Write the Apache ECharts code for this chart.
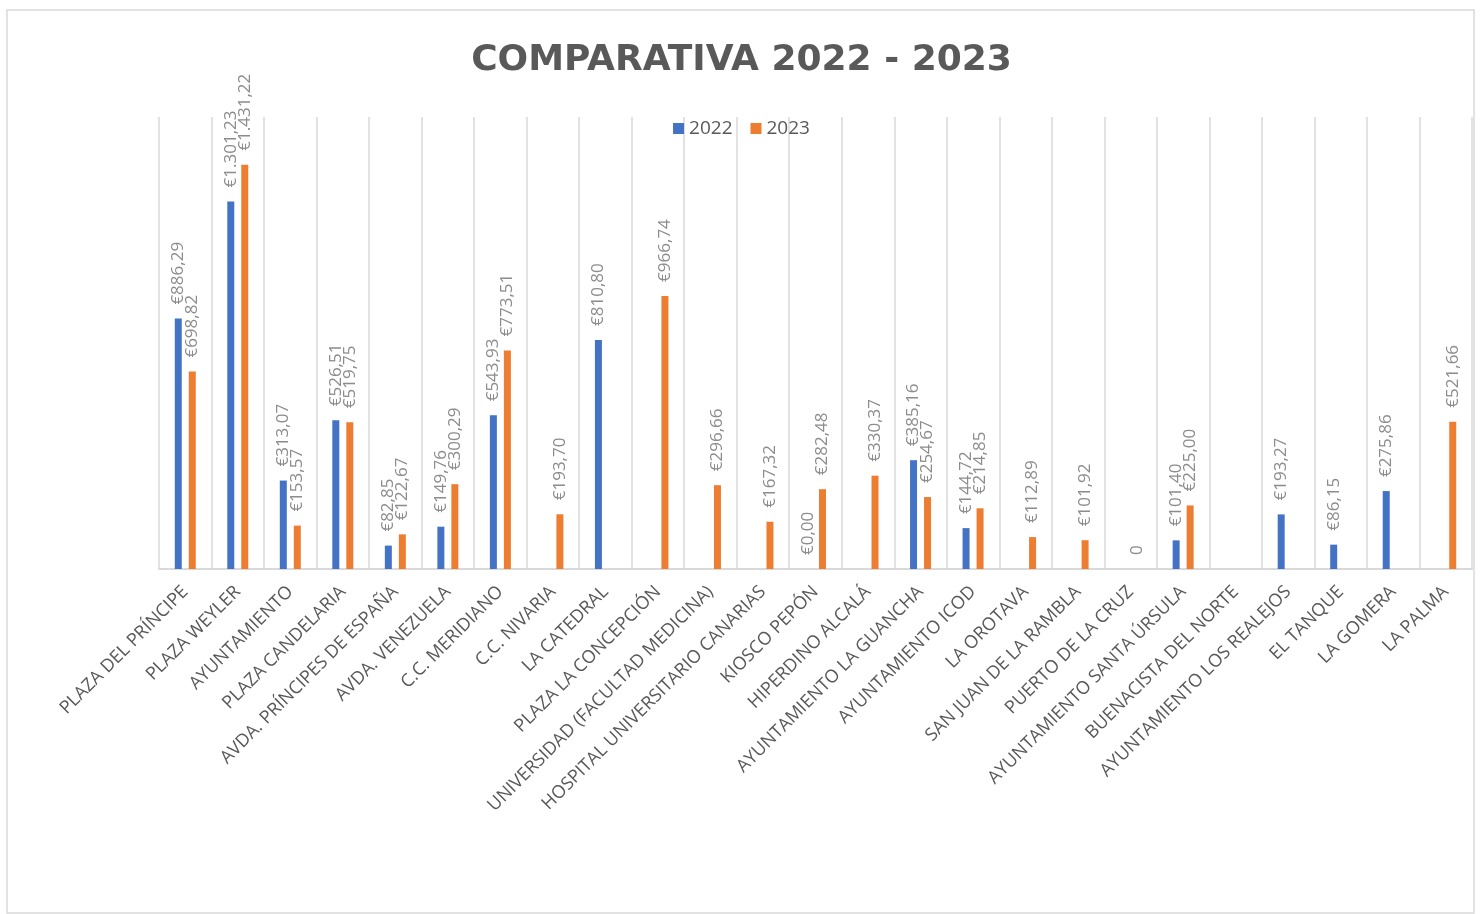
<!DOCTYPE html>
<html>
<head>
<meta charset="utf-8">
<title>Comparativa 2022 - 2023</title>
<script src="https://cdn.jsdelivr.net/npm/echarts@6/dist/echarts.min.js"></script>
<style>
  html, body { margin: 0; padding: 0; background: #fff; }
  #chart { width: 1483px; height: 914px; }
</style>
</head>
<body>
<div id="chart"></div>
<script>
const categories = [
  'PLAZA DEL PRÍNCIPE', 'PLAZA WEYLER', 'AYUNTAMIENTO', 'PLAZA CANDELARIA',
  'AVDA. PRÍNCIPES DE ESPAÑA', 'AVDA. VENEZUELA', 'C.C. MERIDIANO', 'C.C. NIVARIA',
  'LA CATEDRAL', 'PLAZA LA CONCEPCIÓN', 'UNIVERSIDAD (FACULTAD MEDICINA)',
  'HOSPITAL UNIVERSITARIO CANARIAS', 'KIOSCO PEPÓN', 'HIPERDINO ALCALÁ',
  'AYUNTAMIENTO LA GUANCHA', 'AYUNTAMIENTO ICOD', 'LA OROTAVA',
  'SAN JUAN DE LA RAMBLA', 'PUERTO DE LA CRUZ', 'AYUNTAMIENTO SANTA ÚRSULA',
  'BUENACISTA DEL NORTE', 'AYUNTAMIENTO LOS REALEJOS', 'EL TANQUE', 'LA GOMERA', 'LA PALMA'
]

const values2022 = [
  886.29, 1301.23, 313.07, 526.51, 82.85, 149.76, 543.93, null,
  810.80, null, null, null, 0, null, 385.16, 144.72, null,
  null, null, 101.40, null, 193.27, 86.15, 275.86, null
]

const values2023 = [
  698.82, 1431.22, 153.57, 519.75, 122.67, 300.29, 773.51, 193.70,
  null, 966.74, 296.66, 167.32, 282.48, 330.37, 254.67, 214.85, 112.89,
  101.92, 0, 225.00, null, null, null, null, 521.66
]

// the 2023 zero of Puerto de la Cruz is shown as a plain "0"
const plainZero2023 = [18]

function euro(v) {
  const parts = v.toFixed(2).split('.')
  const int = parts[0].replace(/\B(?=(\d{3})+(?!\d))/g, '.')
  return '€' + int + ',' + parts[1]
}

const labelStyle = {
  show: true,
  position: 'top',
  rotate: 90,
  align: 'left',
  verticalAlign: 'middle',
  distance: 14,
  color: '#8c8c8c',
  fontFamily: 'Open Sans',
  fontSize: 17
}

const option = {
  animation: false,
  backgroundColor: '#fff',
  title: {
    text: 'COMPARATIVA 2022 - 2023',
    left: 'center',
    top: 38,
    textStyle: {
      color: '#595959',
      fontFamily: 'DejaVu Sans',
      fontWeight: 'bold',
      fontSize: 36
    }
  },
  legend: {
    top: 114,
    left: 'center',
    itemWidth: 11,
    itemHeight: 11,
    itemGap: 18,
    icon: 'rect',
    textStyle: { color: '#595959', fontFamily: 'Open Sans', fontSize: 19 },
    data: ['2022', '2023']
  },
  graphic: [{
    type: 'rect',
    shape: { x: 7, y: 10, width: 1467, height: 903 },
    style: { fill: 'none', stroke: '#d9d9d9', lineWidth: 1.5 },
    silent: true
  }],
  grid: { left: 159, right: 11, top: 117, bottom: 345 },
  xAxis: {
    type: 'category',
    data: categories,
    axisLine: { lineStyle: { color: '#d9d9d9', width: 2 } },
    axisTick: { show: false },
    splitLine: { show: true, interval: 0, lineStyle: { color: '#d9d9d9', width: 1.5 } },
    axisLabel: {
      interval: 0,
      rotate: 45,
      margin: 20,
      color: '#595959',
      fontFamily: 'Open Sans',
      fontSize: 18
    }
  },
  yAxis: {
    type: 'value',
    min: 0,
    max: 1600,
    show: false,
    splitLine: { show: false }
  },
  series: [
    {
      name: '2022',
      type: 'bar',
      barWidth: 7,
      barGap: '100%',
      itemStyle: { color: '#4472C4' },
      label: Object.assign({}, labelStyle, {
        formatter: (p) => euro(p.value)
      }),
      data: values2022
    },
    {
      name: '2023',
      type: 'bar',
      barWidth: 7,
      barGap: '100%',
      itemStyle: { color: '#ED7D31' },
      label: Object.assign({}, labelStyle, {
        formatter: (p) => plainZero2023.includes(p.dataIndex) ? '0' : euro(p.value)
      }),
      data: values2023
    }
  ]
}

const myChart = echarts.init(document.getElementById('chart'))
myChart.setOption(option)
</script>
</body>
</html>
